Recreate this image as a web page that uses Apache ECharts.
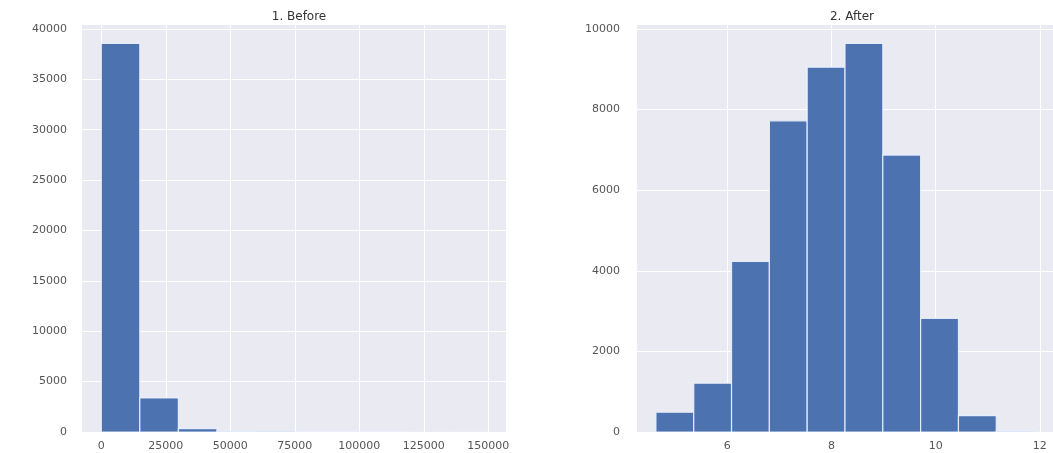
<!DOCTYPE html>
<html>
<head>
<meta charset="utf-8">
<script src="https://cdn.jsdelivr.net/npm/echarts@6/dist/echarts.min.js"></script>
<style>
html,body{margin:0;padding:0;background:#fff;}
#chart{width:1053px;height:453px;}
</style>
</head>
<body>
<div id="chart"></div>
<script>
// ---- data ----
var titles = ["1. Before", "2. After"];
var beforeEdges = [0, 14940, 29880, 44820, 59760, 74700, 89640, 104580, 119520, 134460, 149400];
var beforeCounts = [38560, 3380, 330, 60, 20, 10, 5, 3, 2, 1];
var afterEdges = [4.630, 5.356, 6.082, 6.808, 7.534, 8.260, 8.986, 9.712, 10.438, 11.164, 11.890];
var afterCounts = [490, 1210, 4230, 7720, 9050, 9640, 6870, 2820, 405, 25];
var beforeXTicks = [0, 25000, 50000, 75000, 100000, 125000, 150000];
var afterXTicks = [6, 8, 10, 12];

function toBins(edges, counts) {
  var out = [];
  for (var i = 0; i < counts.length; i++) out.push([edges[i], edges[i + 1], counts[i]]);
  return out;
}
function pad(edges, frac) {
  var r = edges[edges.length - 1] - edges[0];
  return [edges[0] - r * frac, edges[edges.length - 1] + r * frac];
}
function maxOf(a) { return Math.max.apply(null, a); }

var bx = pad(beforeEdges, 0.05), ax = pad(afterEdges, 0.05);

var chart = echarts.init(document.getElementById('chart'), null, {renderer: 'canvas'});
var FONT = 'DejaVu Sans, Verdana, sans-serif';
function plain(v) { return String(v); }
var labelStyle = {color: '#555', fontSize: 11, fontFamily: FONT, formatter: plain};
var splitStyle = {show: true, lineStyle: {color: '#ffffff', width: 1}};
function renderBar(params, api) {
  var p0 = api.coord([api.value(0), api.value(2)]);
  var p1 = api.coord([api.value(1), 0]);
  return {
    type: 'rect',
    shape: {x: p0[0], y: p0[1], width: p1[0] - p0[0], height: p1[1] - p0[1]},
    style: {fill: '#4C72B0', stroke: 'rgba(235,242,255,0.9)', lineWidth: 1.2}
  };
}
var titleText = {fontSize: 12, fontWeight: 'normal', color: '#333', fontFamily: FONT};
var option = {
  backgroundColor: '#ffffff',
  animation: false,
  title: [
    {text: titles[0], left: 294, top: 6, textAlign: 'center', textStyle: titleText},
    {text: titles[1], left: 847, top: 6, textAlign: 'center', textStyle: titleText}
  ],
  grid: [
    {left: 82, right: 547, top: 24, bottom: 21, show: true, backgroundColor: '#EAEAF2', borderWidth: 0},
    {left: 637, right: -10, top: 24, bottom: 21, show: true, backgroundColor: '#EAEAF2', borderWidth: 0}
  ],
  xAxis: [
    {type: 'value', gridIndex: 0, min: bx[0], max: bx[1],
     axisLine: {show: false},
     axisTick: {show: false, customValues: beforeXTicks},
     axisLabel: Object.assign({customValues: beforeXTicks, margin: 9}, labelStyle),
     splitLine: splitStyle},
    {type: 'value', gridIndex: 1, min: ax[0], max: ax[1],
     axisLine: {show: false},
     axisTick: {show: false, customValues: afterXTicks},
     axisLabel: Object.assign({customValues: afterXTicks, margin: 9}, labelStyle),
     splitLine: splitStyle}
  ],
  yAxis: [
    {type: 'value', gridIndex: 0, min: 0, max: maxOf(beforeCounts) * 1.05, interval: 5000,
     axisLine: {show: false}, axisTick: {show: false},
     axisLabel: Object.assign({margin: 15, showMaxLabel: false}, labelStyle),
     splitLine: splitStyle},
    {type: 'value', gridIndex: 1, min: 0, max: maxOf(afterCounts) * 1.05, interval: 2000,
     axisLine: {show: false}, axisTick: {show: false},
     axisLabel: Object.assign({margin: 17, showMaxLabel: false}, labelStyle),
     splitLine: splitStyle}
  ],
  series: [
    {type: 'custom', xAxisIndex: 0, yAxisIndex: 0, renderItem: renderBar,
     encode: {x: [0, 1], y: 2}, data: toBins(beforeEdges, beforeCounts), clip: true},
    {type: 'custom', xAxisIndex: 1, yAxisIndex: 1, renderItem: renderBar,
     encode: {x: [0, 1], y: 2}, data: toBins(afterEdges, afterCounts), clip: true}
  ]
};
chart.setOption(option);
</script>
</body>
</html>
